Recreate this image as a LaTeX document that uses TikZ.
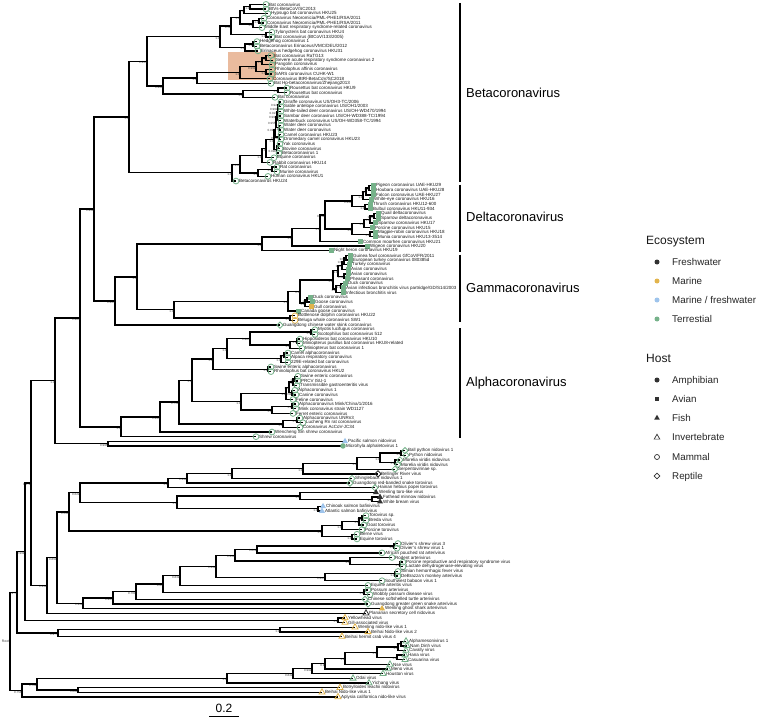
\documentclass[tikz,border=0pt]{standalone}
\usepackage{fontspec}
\setmainfont{Liberation Sans}
\usetikzlibrary{calc,shapes.geometric}
\definecolor{terr}{RGB}{118,178,138}
\definecolor{mar}{RGB}{226,180,76}
\definecolor{mfw}{RGB}{158,196,236}
\definecolor{fw}{RGB}{50,50,50}
\definecolor{hl}{RGB}{234,187,158}
\tikzset{
 br/.style={line width=1.35pt, black},
 lab/.style={anchor=west, inner sep=0pt, xshift=3pt, font=\fontsize{4.5}{4.5}\selectfont, text=black!90},
 supp/.style={anchor=north east, inner sep=0.2pt, font=\fontsize{3}{3}\selectfont, text=black!75},
 mam/.style={circle, draw=#1, line width=0.8pt, inner sep=0pt, minimum size=5.8pt},
 bird/.style={rectangle, fill=#1, inner sep=0pt, minimum size=5pt},
 fish/.style={regular polygon, regular polygon sides=3, fill=#1, inner sep=0pt, minimum size=7pt},
 inv/.style={regular polygon, regular polygon sides=3, draw=#1, line width=0.8pt, inner sep=0pt, minimum size=7pt},
 rep/.style={diamond, draw=#1, line width=0.8pt, inner sep=0pt, minimum size=6.5pt},
 amph/.style={circle, fill=#1, inner sep=0pt, minimum size=5.5pt},
 clbar/.style={line width=1.3pt, black},
 cladelab/.style={anchor=west, inner sep=0pt, font=\fontsize{13}{15}\selectfont},
 legt/.style={anchor=base west, inner sep=0pt, font=\fontsize{9.8}{11}\selectfont, text=black!85},
 legh/.style={anchor=base west, inner sep=0pt, font=\fontsize{12}{14}\selectfont, text=black!90},
}
\newcommand\Lcoord[5]{\pgfmathsetmacro\yy{4.4+4.648*#2}\coordinate (#1) at (#3,\yy);}
\newcommand\Lsym[5]{\node[#4] (#1s) at (#1) {}; \node[lab] (#1t) at (#1) {#5};}
\newcommand\inode[5]{%
 \path let \p1=(#3), \p2=(#4) in coordinate (#1) at (#2pt,{0.5*(\y1)+0.5*(\y2)});
 \draw[br] (#1) |- (#3);
 \draw[br] (#1) |- (#4);
 \node[supp] (#1lab) at (#1) {#5};}
\newcommand\leafset{%
\LF{l0}{0}{266}{mam=terr}{Bat coronavirus}
\LF{l1}{1}{266}{mam=terr}{BtVs-BetaCoV/SC2013}
\LF{l2}{2}{268}{mam=terr}{Hypsugo bat coronavirus HKU25}
\LF{l3}{3}{264}{mam=terr}{Coronavirus Neoromicia/PML-PHE1/RSA/2011}
\LF{l4}{4}{264}{mam=terr}{Coronavirus Neoromicia/PML-PHE1/RSA/2011}
\LF{l5}{5}{262}{mam=terr}{Middle East respiratory syndrome-related coronavirus}
\LF{l6}{6}{272}{mam=terr}{Tylonycteris bat coronavirus HKU4}
\LF{l7}{7}{272}{mam=terr}{Bat coronavirus (BtCoV/133/2005)}
\LF{l8}{8}{257}{mam=terr}{Hedgehog coronavirus 1}
\LF{l9}{9}{257}{mam=terr}{Betacoronavirus Erinaceus/VMC/DEU/2012}
\LF{l10}{10}{258}{mam=terr}{Erinaceus hedgehog coronavirus HKU31}
\LF{l11}{11}{271}{mam=terr}{Bat coronavirus RaTG13}
\LF{l12}{12}{273}{mam=terr}{Severe acute respiratory syndrome coronavirus 2}
\LF{l13}{13}{272}{mam=terr}{Pangolin coronavirus}
\LF{l14}{14}{272}{mam=terr}{Rhinolophus affinis coronavirus}
\LF{l15}{15}{272}{mam=terr}{SARS coronavirus CUHK-W1}
\LF{l16}{16}{270}{mam=terr}{Coronavirus BtRl-BetaCoV/SC2018}
\LF{l17}{17}{271}{mam=terr}{Bat Hp-betacoronavirus/Zhejiang2013}
\LF{l18}{18}{287}{mam=terr}{Rousettus bat coronavirus HKU9}
\LF{l19}{19}{287}{mam=terr}{Rousettus bat coronavirus}
\LF{l20}{20}{275}{mam=terr}{Bat coronavirus}
\LF{l21}{21}{281}{mam=terr}{Giraffe coronavirus US/OH3-TC/2006}
\LF{l22}{22}{281}{mam=terr}{Sable antelope coronavirus US/OH1/2003}
\LF{l23}{23}{281}{mam=terr}{White-tailed deer coronavirus US/OH-WD470/1994}
\LF{l24}{24}{281}{mam=terr}{Sambar deer coronavirus US/OH-WD388-TC/1994}
\LF{l25}{25}{281}{mam=terr}{Waterbuck coronavirus US/OH-WD358-TC/1994}
\LF{l26}{26}{281}{mam=terr}{Water deer coronavirus}
\LF{l27}{27}{281}{mam=terr}{Water deer coronavirus}
\LF{l28}{28}{281}{mam=terr}{Camel coronavirus HKU23}
\LF{l29}{29}{281}{mam=terr}{Dromedary camel coronavirus HKU23}
\LF{l30}{30}{280}{mam=terr}{Yak coronavirus}
\LF{l31}{31}{280}{mam=terr}{Bovine coronavirus}
\LF{l32}{32}{279}{mam=terr}{Betacoronavirus 1}
\LF{l33}{33}{274}{mam=terr}{Equine coronavirus}
\LF{l34}{34}{270}{mam=terr}{Rabbit coronavirus HKU14}
\LF{l35}{35}{277}{mam=terr}{Rat coronavirus}
\LF{l36}{36}{277}{mam=terr}{Murine coronavirus}
\LF{l37}{37}{268}{mam=terr}{Human coronavirus HKU1}
\LF{l38}{38}{236}{mam=terr}{Betacoronavirus HKU24}
\LF{l39}{39}{373}{bird=terr}{Pigeon coronavirus UAE-HKU29}
\LF{l40}{40}{373}{bird=terr}{Houbara coronavirus UAE-HKU28}
\LF{l41}{41}{373}{bird=terr}{Falcon coronavirus UAE-HKU27}
\LF{l42}{42}{371}{bird=terr}{White-eye coronavirus HKU16}
\LF{l43}{43}{370}{bird=terr}{Thrush coronavirus HKU12-600}
\LF{l44}{44}{370}{bird=terr}{Bulbul coronavirus HKU11-934}
\LF{l45}{45}{378}{bird=terr}{Quail deltacoronavirus}
\LF{l46}{46}{378}{bird=terr}{Sparrow deltacoronavirus}
\LF{l47}{47}{375}{bird=terr}{Sparrow coronavirus HKU17}
\LF{l48}{48}{372}{bird=terr}{Porcine coronavirus HKU15}
\LF{l49}{49}{375}{bird=terr}{Magpie-robin coronavirus HKU18}
\LF{l50}{50}{375}{bird=terr}{Munia coronavirus HKU13-3514}
\LF{l51}{51}{360}{bird=terr}{Common moorhen coronavirus HKU21}
\LF{l52}{52}{367}{bird=terr}{Wigeon coronavirus HKU20}
\LF{l53}{53}{331}{bird=terr}{Night heron coronavirus HKU19}
\LF{l54}{54}{350}{bird=terr}{Guinea fowl coronavirus GfCoV/FR/2011}
\LF{l55}{55}{350}{bird=terr}{European turkey coronavirus 080385d}
\LF{l56}{56}{349}{bird=terr}{Turkey coronavirus}
\LF{l57}{57}{348}{bird=terr}{Avian coronavirus}
\LF{l58}{58}{348}{bird=terr}{Avian coronavirus}
\LF{l59}{59}{347}{bird=terr}{Pheasant coronavirus}
\LF{l60}{60}{345}{bird=terr}{Duck coronavirus}
\LF{l61}{61}{343}{bird=terr}{Avian infectious bronchitis virus partridge/GD/S14/2003}
\LF{l62}{62}{343}{bird=terr}{Infectious bronchitis virus}
\LF{l63}{63}{310}{bird=terr}{Duck coronavirus}
\LF{l64}{64}{312}{bird=terr}{Goose coronavirus}
\LF{l65}{65}{311}{bird=mar}{Gull coronavirus}
\LF{l66}{66}{298}{bird=terr}{Canada goose coronavirus}
\LF{l67}{67}{295}{mam=mar}{Bottlenose dolphin coronavirus HKU22}
\LF{l68}{68}{295}{mam=mar}{Beluga whale coronavirus SW1}
\LF{l69}{69}{280}{rep=terr}{Guangdong chinese water skink coronavirus}
\LF{l70}{70}{315}{mam=terr}{Myotis lucifugus coronavirus}
\LF{l71}{71}{315}{mam=terr}{Scotophilus bat coronavirus 512}
\LF{l72}{72}{300}{mam=terr}{Hipposideros bat coronavirus HKU10}
\LF{l73}{73}{300}{mam=terr}{Miniopterus pusillus bat coronavirus HKU8-related}
\LF{l74}{74}{302}{mam=terr}{Miniopterus bat coronavirus 1}
\LF{l75}{75}{288}{mam=terr}{Camel alphacoronavirus}
\LF{l76}{76}{288}{mam=terr}{Alpaca respiratory coronavirus}
\LF{l77}{77}{288}{mam=terr}{229E-related bat coronavirus}
\LF{l78}{78}{271}{mam=terr}{Swine enteric alphacoronavirus}
\LF{l79}{79}{271}{mam=terr}{Rhinolophus bat coronavirus HKU2}
\LF{l80}{80}{298}{mam=terr}{Swine enteric coronavirus}
\LF{l81}{81}{298}{mam=terr}{PRCV ISU-1}
\LF{l82}{82}{297}{mam=terr}{Transmissible gastroenteritis virus}
\LF{l83}{83}{295}{mam=terr}{Alphacoronavirus 1}
\LF{l84}{84}{296}{mam=terr}{Canine coronavirus}
\LF{l85}{85}{293}{mam=terr}{Feline coronavirus}
\LF{l86}{86}{296}{mam=terr}{Alphacoronavirus Mink/China/1/2016}
\LF{l87}{87}{296}{mam=terr}{Mink coronavirus strain WD1127}
\LF{l88}{88}{293}{mam=terr}{Ferret enteric coronavirus}
\LF{l89}{89}{300}{mam=terr}{Alphacoronavirus UNRn3}
\LF{l90}{90}{303}{mam=terr}{Lucheng Rn rat coronavirus}
\LF{l91}{91}{300}{mam=terr}{Coronavirus AcCoV-JC34}
\LF{l92}{92}{272}{mam=terr}{Wencheng Sm shrew coronavirus}
\LF{l93}{93}{256}{mam=terr}{Shrew coronavirus}
\LF{l94}{94}{345}{fish=mfw}{Pacific salmon nidovirus}
\LF{l95}{95}{343}{amph=terr}{Microhyla alphaletovirus 1}
\LF{l96}{96}{405}{rep=terr}{Ball python nidovirus 1}
\LF{l97}{97}{406}{rep=terr}{Python nidovirus}
\LF{l98}{98}{400}{rep=terr}{Morelia viridis nidovirus}
\LF{l99}{99}{398}{rep=terr}{Morelia viridis nidovirus}
\LF{l100}{100}{395}{rep=terr}{Serpentovirinae sp.}
\LF{l101}{101}{378}{rep=fw}{Bellinger River virus}
\LF{l102}{102}{352}{rep=terr}{Shingleback nidovirus 1}
\LF{l103}{103}{350}{rep=terr}{Guangdong red-banded snake torovirus}
\LF{l104}{104}{375}{rep=terr}{Hainan hebius popei torovirus}
\LF{l105}{105}{376}{fish=fw}{Wenling toro-like virus}
\LF{l106}{106}{380}{fish=fw}{Fathead minnow nidovirus}
\LF{l107}{107}{380}{fish=fw}{White bream virus}
\LF{l108}{108}{323}{fish=mfw}{Chinook salmon bafinivirus}
\LF{l109}{109}{322}{fish=mfw}{Atlantic salmon bafinivirus}
\LF{l110}{110}{366}{mam=terr}{Torovirus sp.}
\LF{l111}{111}{366}{mam=terr}{Breda virus}
\LF{l112}{112}{364}{mam=terr}{Goat torovirus}
\LF{l113}{113}{362}{mam=terr}{Porcine torovirus}
\LF{l114}{114}{357}{mam=terr}{Berne virus}
\LF{l115}{115}{357}{mam=terr}{Equine torovirus}
\LF{l116}{116}{398}{mam=terr}{Olivier's shrew virus 3}
\LF{l117}{117}{397}{mam=terr}{Olivier's shrew virus 1}
\LF{l118}{118}{382}{mam=terr}{African pouched rat arterivirus}
\LF{l119}{119}{392}{mam=terr}{Rodent arterivirus}
\LF{l120}{120}{403}{mam=terr}{Porcine reproductive and respiratory syndrome virus}
\LF{l121}{121}{403}{mam=terr}{Lactate dehydrogenase-elevating virus}
\LF{l122}{122}{398}{mam=terr}{Simian hemorrhagic fever virus}
\LF{l123}{123}{398}{mam=terr}{DeBrazza's monkey arterivirus}
\LF{l124}{124}{382}{mam=terr}{Southwest baboon virus 1}
\LF{l125}{125}{368}{mam=terr}{Equine arteritis virus}
\LF{l126}{126}{368}{mam=terr}{Possum arterivirus}
\LF{l127}{127}{370}{mam=terr}{Wobbly possum disease virus}
\LF{l128}{128}{365}{rep=terr}{Chinese softshelled turtle arterivirus}
\LF{l129}{129}{368}{rep=terr}{Guangdong greater green snake arterivirus}
\LF{l130}{130}{382}{fish=mar}{Wenling ghost shark arterivirus}
\LF{l131}{131}{366}{inv=fw}{Planarian secretory cell nidovirus}
\LF{l132}{132}{345}{inv=mar}{Yellowhead virus}
\LF{l133}{133}{345}{inv=mar}{Gill-associated virus}
\LF{l134}{134}{355}{inv=mar}{Wenling nido-like virus 1}
\LF{l135}{135}{368}{inv=mar}{Beihai Nido-like virus 2}
\LF{l136}{136}{342}{inv=mar}{Beihai hermit crab virus 4}
\LF{l137}{137}{406}{inv=terr}{Alphamesonivirus 1}
\LF{l138}{138}{407}{inv=terr}{Nam Dinh virus}
\LF{l139}{139}{406}{inv=terr}{Cavally virus}
\LF{l140}{140}{405}{inv=terr}{Hana virus}
\LF{l141}{141}{405}{inv=terr}{Casuarina virus}
\LF{l142}{142}{390}{inv=terr}{Nse virus}
\LF{l143}{143}{388}{inv=terr}{Meno virus}
\LF{l144}{144}{383}{inv=terr}{Houston virus}
\LF{l145}{145}{353}{inv=terr}{Odai virus}
\LF{l146}{146}{369}{inv=terr}{Yichang virus}
\LF{l147}{147}{340}{inv=mar}{Botrylloides leachii nidovirus}
\LF{l148}{148}{322}{inv=mar}{Beihai Nido-like virus 1}
\LF{l149}{149}{338}{inv=mar}{Aplysia californica nido-like virus}
}
\begin{document}
\begin{tikzpicture}[x=1pt,y=-1pt]
\useasboundingbox (0,0) rectangle (758,717);
\fill[white] (0,0) rectangle (758,717);
\fill[hl] (228,52) rectangle (276,80.5);
% leaf tip coordinates
\let\LF\Lcoord
\leafset
% Betacoronavirus
\inode{a1}{250}{l0}{l1}{1.0}
\inode{a2}{244}{a1}{l2}{1.0}
\inode{a3}{259}{l3}{l4}{1.0}
\inode{a4}{253}{a3}{l5}{1.0}
\inode{a5}{240}{a2}{a4}{1.0}
\inode{a6}{266}{l6}{l7}{1.0}
\inode{a7}{231}{a5}{a6}{0.52}
\inode{h1}{253}{l8}{l9}{1.0}
\inode{h2}{245}{h1}{l10}{1.0}
\inode{a8}{220}{a7}{h2}{1.0}
\inode{s1}{266}{l11}{l12}{1.0}
\inode{s2}{262}{s1}{l13}{1.0}
\inode{s3}{266}{l14}{l15}{1.0}
\inode{s4}{256}{s2}{s3}{0.999}
\inode{s5}{240}{s4}{l16}{1.0}
\inode{s6}{197}{s5}{l17}{1.0}
\inode{r1}{278}{l18}{l19}{1.0}
\inode{r2}{243}{r1}{l20}{1.0}
\inode{b1b}{163}{s6}{r2}{0.998}
\inode{b1}{147}{a8}{b1b}{0.995}
\inode{c1}{279}{l21}{l22}{0.928}
\inode{c2}{278}{c1}{l23}{0.992}
\inode{c3}{277.5}{c2}{l24}{0.927}
\inode{c4}{277}{c3}{l25}{0.995}
\inode{c5}{279}{l26}{l27}{1.0}
\inode{c6}{276}{c4}{c5}{0.955}
\inode{c7}{279}{l28}{l29}{0.868}
\inode{c8}{275.5}{c6}{c7}{0.998}
\inode{c9}{278}{l30}{l31}{1.0}
\inode{c10}{276.5}{c9}{l32}{0.998}
\inode{c11}{274}{c8}{c10}{1.0}
\inode{c12}{266}{c11}{l33}{1.0}
\inode{c13}{262}{c12}{l34}{1.0}
\inode{c14}{272}{l35}{l36}{1.0}
\inode{c15}{258}{c14}{l37}{1.0}
\inode{c16}{240}{c13}{c15}{0.996}
\inode{b2}{232}{c16}{l38}{1.0}
\inode{b0}{129}{b1}{b2}{1.0}
% Deltacoronavirus
\inode{d1}{369}{l39}{l40}{1.0}
\inode{d2}{366}{d1}{l41}{1.0}
\inode{d3}{363}{d2}{l42}{1.0}
\inode{d4}{365}{l43}{l44}{1.0}
\inode{d5}{352}{d3}{d4}{0.998}
\inode{d6}{374}{l45}{l46}{0.98}
\inode{d7}{370}{d6}{l47}{1.0}
\inode{d8}{364}{d7}{l48}{1.0}
\inode{d9}{370}{l49}{l50}{1.0}
\inode{d10}{352}{d8}{d9}{1.0}
\inode{d11}{325}{d5}{d10}{0.999}
\inode{d12}{320}{d11}{l51}{1.0}
\inode{d13}{292}{d12}{l52}{1.0}
\inode{d14}{262}{d13}{l53}{1.0}
% Gammacoronavirus
\inode{g1}{346}{l54}{l55}{0.98}
\inode{g2}{344}{g1}{l56}{0.95}
\inode{g3}{342}{g2}{l57}{0.93}
\inode{g4}{344}{l58}{l59}{0.99}
\inode{g5}{338}{g3}{g4}{1.0}
\inode{g6}{341}{l60}{l61}{1.0}
\inode{g7}{336}{g6}{l62}{1.0}
\inode{g8}{333}{g5}{g7}{1.0}
\inode{g9}{307}{l63}{l64}{1.0}
\inode{g10}{305}{g9}{l65}{1.0}
\inode{g11}{300}{g8}{g10}{0.8}
\inode{g12}{288}{g11}{l66}{1.0}
\inode{w1}{290}{l67}{l68}{1.0}
\inode{n174}{174}{g12}{w1}{1.0}
\inode{n137}{137}{d14}{n174}{1.0}
\inode{n115}{115}{n137}{l69}{0.995}
\inode{n94}{94}{b0}{n115}{0.991}
% Alphacoronavirus
\inode{m1}{311}{l70}{l71}{1.0}
\inode{m2}{297}{l72}{l73}{1.0}
\inode{m3}{290}{m2}{l74}{1.0}
\inode{m4}{250}{m1}{m3}{0.987}
\inode{m5}{284}{l75}{l76}{1.0}
\inode{m6}{281}{m5}{l77}{1.0}
\inode{ny}{227}{m4}{m6}{1.0}
\inode{m7}{268}{l78}{l79}{1.0}
\inode{nx}{213}{ny}{m7}{1.0}
\inode{t1}{295}{l80}{l81}{1.0}
\inode{t2}{293}{t1}{l82}{1.0}
\inode{t3}{292}{l83}{l84}{0.99}
\inode{t4}{289}{t2}{t3}{1.0}
\inode{t5}{286}{t4}{l85}{1.0}
\inode{k1}{292}{l86}{l87}{1.0}
\inode{k2}{272}{k1}{l88}{1.0}
\inode{n241}{241}{t5}{k2}{1.0}
\inode{n192}{192}{nx}{n241}{1.0}
\inode{u1}{297}{l89}{l90}{1.0}
\inode{u2}{283}{u1}{l91}{1.0}
\inode{n179}{179}{n192}{u2}{0.752}
\inode{n160}{160}{n179}{l92}{0.995}
\inode{n121}{121}{n160}{l93}{1.0}
\inode{n80}{80}{n94}{n121}{0.985}
\inode{sp}{108}{l94}{l95}{0.995}
\inode{n55}{55}{n80}{sp}{1.0}
% other nidoviruses
\inode{p1}{401}{l96}{l97}{1.0}
\inode{p2}{395}{l98}{l99}{1.0}
\inode{p3}{380}{p1}{p2}{1.0}
\inode{p4}{357}{p3}{l100}{1.0}
\inode{p5}{303}{p4}{l101}{1.0}
\inode{q232}{232}{p5}{l102}{1.0}
\inode{q187}{187}{q232}{l103}{0.998}
\inode{q168}{168}{q187}{l104}{1.0}
\inode{tl1}{372}{l106}{l107}{1.0}
\inode{tl2}{300}{l105}{tl1}{1.0}
\inode{bf}{318}{l108}{l109}{1.0}
\inode{q177}{177}{tl2}{bf}{1.0}
\inode{qa80}{80}{q168}{q177}{0.622}
\inode{tv1}{362}{l110}{l111}{1.0}
\inode{tv2}{359}{tv1}{l112}{1.0}
\inode{tv3}{342}{tv2}{l113}{1.0}
\inode{tv4}{352}{l114}{l115}{1.0}
\inode{tv5}{322}{tv3}{tv4}{1.0}
\inode{q69}{69}{qa80}{tv5}{0.598}
\inode{o1}{394}{l116}{l117}{1.0}
\inode{q257}{257}{o1}{l118}{0.829}
\inode{ax1}{400}{l120}{l121}{1.0}
\inode{ax2}{350}{l119}{ax1}{1.0}
\inode{q235}{235}{q257}{ax2}{0.998}
\inode{sh1}{395}{l122}{l123}{1.0}
\inode{sh2}{325}{sh1}{l124}{0.997}
\inode{q216}{216}{q235}{sh2}{0.999}
\inode{q180}{180}{q216}{l125}{0.832}
\inode{wp}{364}{l126}{l127}{1.0}
\inode{q163}{163}{q180}{wp}{0.95}
\inode{q136}{136}{q163}{l128}{0.760}
\inode{q113}{113}{q136}{l129}{0.997}
\inode{q83}{83}{q113}{l130}{0.999}
\inode{q57}{57}{q69}{q83}{0.891}
\inode{q47}{47}{q57}{l131}{0.992}
\inode{n31}{31}{n55}{q47}{0.872}
\inode{yg}{338}{l132}{l133}{1.0}
\inode{q25}{25}{n31}{yg}{0.999}
\inode{q280}{280}{l134}{l135}{1.0}
\inode{q58}{58}{q280}{l136}{0.977}
\inode{q17}{17}{q25}{q58}{0.975}
\inode{me1}{401}{l137}{l138}{1.0}
\inode{me2}{398}{me1}{l139}{1.0}
\inode{me3}{397}{l140}{l141}{1.0}
\inode{me4}{377}{me2}{me3}{1.0}
\inode{me5}{345}{me4}{l142}{1.0}
\inode{me6}{325}{me5}{l143}{0.9}
\inode{me7}{312}{me6}{l144}{0.992}
\inode{me8}{293}{me7}{l145}{0.842}
\inode{q227}{227}{me8}{l146}{1.0}
\inode{q78}{78}{l147}{l148}{0.884}
\inode{q37}{37}{q227}{q78}{0.762}
\inode{q22}{22}{q37}{l149}{0.758}
\inode{root}{10}{q17}{q22}{}
\node[anchor=east, inner sep=0.5pt, font=\fontsize{3.5}{3.5}\selectfont, text=black!75] (rootlab) at (root) {Root};
% tip symbols and labels
\let\LF\Lsym
\leafset
% clade bars
\coordinate (betaT) at (460,3); \coordinate (betaB) at (460,181.5);
\draw[clbar] (betaT) -- (betaB);
\node[cladelab] (betaL) at (466,92.5) {Betacoronavirus};
\coordinate (deltaT) at (460,184.5); \coordinate (deltaB) at (460,251.5);
\draw[clbar] (deltaT) -- (deltaB);
\node[cladelab] (deltaL) at (466,217) {Deltacoronavirus};
\coordinate (gammaT) at (460,254.5); \coordinate (gammaB) at (460,321.5);
\draw[clbar] (gammaT) -- (gammaB);
\node[cladelab] (gammaL) at (466,288) {Gammacoronavirus};
\coordinate (alphaT) at (460,328); \coordinate (alphaB) at (460,438);
\draw[clbar] (alphaT) -- (alphaB);
\node[cladelab] (alphaL) at (466,383) {Alphacoronavirus};
% legend: ecosystem
\node[legh] (ecot) at (646,244) {Ecosystem};
\node[circle, fill=fw, inner sep=0pt, minimum size=5pt] (e1s) at (657,262) {};
\node[legt] (e1t) at (672,265) {Freshwater};
\node[circle, fill=mar, inner sep=0pt, minimum size=5pt] (e2s) at (657,281) {};
\node[legt] (e2t) at (672,284) {Marine};
\node[circle, fill=mfw, inner sep=0pt, minimum size=5pt] (e3s) at (657,300) {};
\node[legt] (e3t) at (672,303) {Marine / freshwater};
\node[circle, fill=terr, inner sep=0pt, minimum size=5pt] (e4s) at (657,319) {};
\node[legt] (e4t) at (672,322) {Terrestial};
% legend: host
\node[legh] (hostt) at (646,362) {Host};
\node[amph=fw, minimum size=5pt] (h1s) at (657,380) {};
\node[legt] (h1t) at (672,383) {Amphibian};
\node[bird=fw, minimum size=4.6pt] (h2s) at (657,399) {};
\node[legt] (h2t) at (672,402) {Avian};
\node[fish=fw, minimum size=6.5pt] (h3s) at (657,418) {};
\node[legt] (h3t) at (672,421) {Fish};
\node[inv=fw, minimum size=6.5pt, line width=0.7pt] (h4s) at (657,437.5) {};
\node[legt] (h4t) at (672,440.5) {Invertebrate};
\node[mam=fw, minimum size=5pt, line width=0.7pt] (h5s) at (657,457) {};
\node[legt] (h5t) at (672,460) {Mammal};
\node[rep=fw, minimum size=6pt, line width=0.7pt] (h6s) at (657,476) {};
\node[legt] (h6t) at (672,479) {Reptile};
% scale bar
\coordinate (sbL) at (209,716); \coordinate (sbR) at (239,716);
\draw[line width=1pt] (sbL) -- (sbR);
\node[anchor=base, inner sep=0pt, font=\fontsize{12}{12}\selectfont] (sbt) at (224,712.5) {0.2};
\end{tikzpicture}
\end{document}
